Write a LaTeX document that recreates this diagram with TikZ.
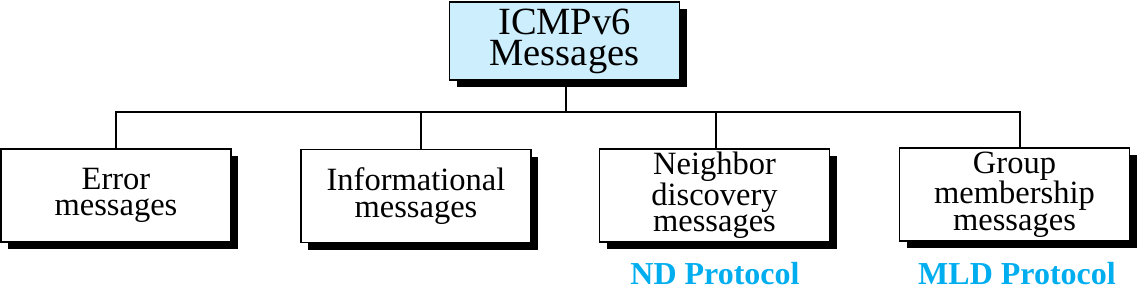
\documentclass[tikz,border=0pt]{standalone}
\usepackage{fontspec}
\setmainfont{Liberation Serif}[BoldFont={Liberation Serif Bold}]
\usetikzlibrary{shadows}
\definecolor{topfill}{HTML}{CCEEFD}
\definecolor{protoblue}{HTML}{00AEEF}
\tikzset{
  msgbox/.style={draw=black, line width=1.8pt, fill=white, minimum width=230pt, minimum height=93pt,
    inner sep=0pt, align=center, font=\fontsize{32.5}{26.5}\selectfont,
    drop shadow={shadow xshift=7pt, shadow yshift=-7pt, opacity=1, fill=black}},
  topbox/.style={msgbox, fill=topfill, minimum height=78pt, font=\fontsize{38.5}{31}\selectfont},
  conn/.style={line width=1.8pt},
  proto/.style={text=protoblue, font=\fontsize{32}{32}\selectfont\bfseries, inner sep=0pt, anchor=base}
}
\begin{document}
\begin{tikzpicture}[x=1pt,y=-1pt]
\useasboundingbox (0,0) rectangle (1137,297);
\node[topbox] (top) at (564.5,41) {ICMPv6\\Messages};
\node[msgbox] (b1) at (116,195.5) {Error\\messages};
\node[msgbox] (b2) at (416,196) {Informational\\messages};
\node[msgbox] (b3) at (714.5,195.5) {Neighbor\\discovery\\messages};
\node[msgbox] (b4) at (1014.5,194.5) {Group\\membership\\messages};
\coordinate (bus) at (566,112);
\draw[conn] ([xshift=1.5pt]top.south) -- (bus);
\draw[conn] (b1.north) |- (bus);
\draw[conn] ([xshift=5pt]b2.north) -- ([xshift=5pt]b2.north |- bus);
\draw[conn] ([xshift=1.5pt]b3.north) -- ([xshift=1.5pt]b3.north |- bus);
\draw[conn] ([xshift=5.5pt]b4.north) |- (bus);
\node[proto] (nd) at (715,284) {ND Protocol};
\node[proto] (mld) at (1017,284) {MLD Protocol};
\end{tikzpicture}
\end{document}
